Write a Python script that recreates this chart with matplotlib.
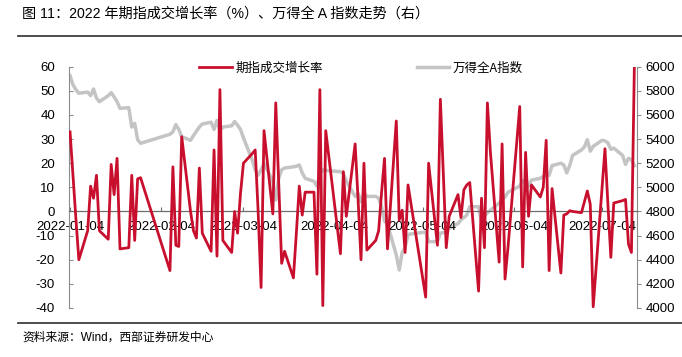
import matplotlib
matplotlib.use("Agg")
import matplotlib.pyplot as plt
import matplotlib.dates as mdates
import pandas as pd

plt.rcParams["font.family"] = ["Liberation Sans", "Noto Sans CJK SC", "DejaVu Sans"]
plt.rcParams["axes.unicode_minus"] = False

# 交易日(2022-01-04 ~ 2022-07-15),剔除节假日
holidays = ["2022-01-31", "2022-02-01", "2022-02-02", "2022-02-03", "2022-02-04",
            "2022-04-04", "2022-04-05", "2022-05-02", "2022-05-03", "2022-05-04",
            "2022-06-03"]
dates = pd.bdate_range("2022-01-04", "2022-07-15")
dates = dates[~dates.isin(pd.to_datetime(holidays))]

# 期指成交增长率(%),按月
growth_jan = [33, 15, -3, -20, -8, 10.5, 5.5, 15, -8, -11.5, 19.5, 7, 22, -15.5, -15,
              15, -12, 13.5, 14]
growth_feb = [-24.5, 18.5, -14, -14.5, 31, 0, -8, -11, 18, -9, -16.5, 25.5, -18.5,
              50.5, -12, -17]
growth_mar = [0, -9, 7.5, 20, 24, 25.5, 0, -31.5, 33.5, -1, 45, 12, -21.5, -16.5,
              -27.5, -9, 10.5, -1.5, 8, 8, -26, 50.5, -39]
growth_apr = [33.5, -17.5, 16.5, -2, 28, 5, -20, 20, -16, -12, -8, 8, 22, -15.5,
              37.5, -3.5, 0.5, -17, 11]
growth_may = [-35.5, 20, -14, 46.5, 16, -15, -2, 7, -2.5, 9, 11, 12, -33, 5.5, -15,
              45, 25, -21, 28]
growth_jun = [-28, -15, 43.5, -23, 24.5, -2, 11, 6, 10, 29.5, -24.5, 9.5, -25.5,
              -1.5, -1, 0.3, 0, -0.5, 4, 8.5, 3]
growth_jul = [-39.5, 10, 26, 3, -19, 3.5, 4.5, 5, -13.5, -17, 60]

# 万得全A指数,按月
wind_jan = [5925, 5850, 5810, 5780, 5790, 5760, 5815, 5740, 5710, 5760, 5785, 5750,
            5710, 5655, 5660, 5500, 5530, 5395, 5365]
wind_feb = [5440, 5460, 5520, 5480, 5420, 5390, 5430, 5465, 5500, 5525, 5540, 5480,
            5555, 5470, 5500, 5510]
wind_mar = [5545, 5515, 5480, 5410, 5225, 5145, 5100, 5145, 5200, 5050, 4895, 5075,
            5145, 5160, 5170, 5175, 5185, 5120, 5075, 5050, 5010, 5110, 5145]
wind_apr = [5140, 5130, 5115, 5050, 4925, 4950, 4880, 4950, 4925, 4925, 4910, 4840,
            4720, 4695, 4440, 4315, 4460, 4500, 4610]
wind_may = [4630, 4550, 4550, 4620, 4625, 4630, 4660, 4700, 4730, 4750, 4770, 4840,
            4840, 4710, 4760, 4790, 4810, 4870, 4900]
wind_jun = [4920, 4960, 5010, 5055, 5040, 5010, 5060, 5075, 5090, 5105, 5100, 5180,
            5200, 5185, 5120, 5180, 5265, 5310, 5335, 5395, 5300]
wind_jul = [5340, 5390, 5385, 5370, 5315, 5325, 5265, 5190, 5240, 5230, 5180]

growth = growth_jan + growth_feb + growth_mar + growth_apr + growth_may + growth_jun + growth_jul
wind_a = wind_jan + wind_feb + wind_mar + wind_apr + wind_may + wind_jun + wind_jul

tick_dates = pd.to_datetime(["2022-01-04", "2022-02-04", "2022-03-04", "2022-04-04",
                             "2022-05-04", "2022-06-04", "2022-07-04"])

RED = "#C8102E"
GRAY = "#C4C4C4"
SPINE = "#8C8C8C"

fig = plt.figure(figsize=(6.82, 3.57), dpi=100)
ax = fig.add_axes([69 / 682, 1 - 308 / 357, 568 / 682, 241.3 / 357])
ax2 = ax.twinx()

l1, = ax.plot(dates, growth, color=RED, lw=2.0, label="期指成交增长率", zorder=3)
l2, = ax2.plot(dates, wind_a, color=GRAY, lw=2.5, label="万得全A指数", zorder=2)

ax.set_xlim(mdates.date2num(pd.Timestamp("2022-01-04")) - 0.35,
            mdates.date2num(pd.Timestamp("2022-07-15")) + 0.9)
ax.set_ylim(-40, 60)
ax.set_yticks(range(-40, 61, 10))
ax2.set_ylim(4000, 6000)
ax2.set_yticks(range(4000, 6001, 200))

ax.set_xticks(tick_dates)
ax.xaxis.set_major_formatter(mdates.DateFormatter("%Y-%m-%d"))

for s in ["top", "right"]:
    ax.spines[s].set_visible(False)
for s in ["top", "left", "bottom"]:
    ax2.spines[s].set_visible(False)
ax.spines["left"].set_color(SPINE)
ax2.spines["right"].set_color(SPINE)
ax.spines["bottom"].set_position(("data", 0))
ax.spines["bottom"].set_color("#6E6E6E")
ax.spines["bottom"].set_linewidth(0.9)

ax.tick_params(axis="y", direction="in", length=3, color=SPINE, labelsize=9.5, pad=10)
ax2.tick_params(axis="y", direction="out", length=3, color=SPINE, labelsize=9.5, pad=3)
ax.tick_params(axis="x", direction="in", length=3, color="#6E6E6E", labelsize=9.5, pad=7)

ax.set_zorder(ax2.get_zorder() + 1)
ax.patch.set_visible(False)

leg = ax.legend([l1, l2], ["期指成交增长率", "万得全A指数"], loc="center",
                bbox_to_anchor=(0.514, 0.995), ncol=2, frameon=False,
                handlelength=2.6, handletextpad=0.3, columnspacing=7.5,
                prop={"family": ["Noto Sans CJK SC", "DejaVu Sans"], "size": 9})

fig.text(22 / 682, 1 - 14 / 357, "图 11：2022 年期指成交增长率（%）、万得全 A 指数走势（右）",
         fontsize=10.2, va="center", ha="left",
         family=["Liberation Sans", "Noto Sans CJK SC"])
fig.add_artist(plt.Line2D([18 / 682, 1], [1 - 36 / 357, 1 - 36 / 357],
                          color="#404040", lw=1.3))
fig.add_artist(plt.Line2D([18 / 682, 1], [1 - 323 / 357, 1 - 323 / 357],
                          color="#404040", lw=1.3))
fig.text(22 / 682, 1 - 338 / 357, "资料来源：Wind，西部证券研发中心",
         fontsize=8.5, va="center", ha="left",
         family=["Liberation Sans", "Noto Sans CJK SC"])

fig.savefig("out.png", dpi=100)
